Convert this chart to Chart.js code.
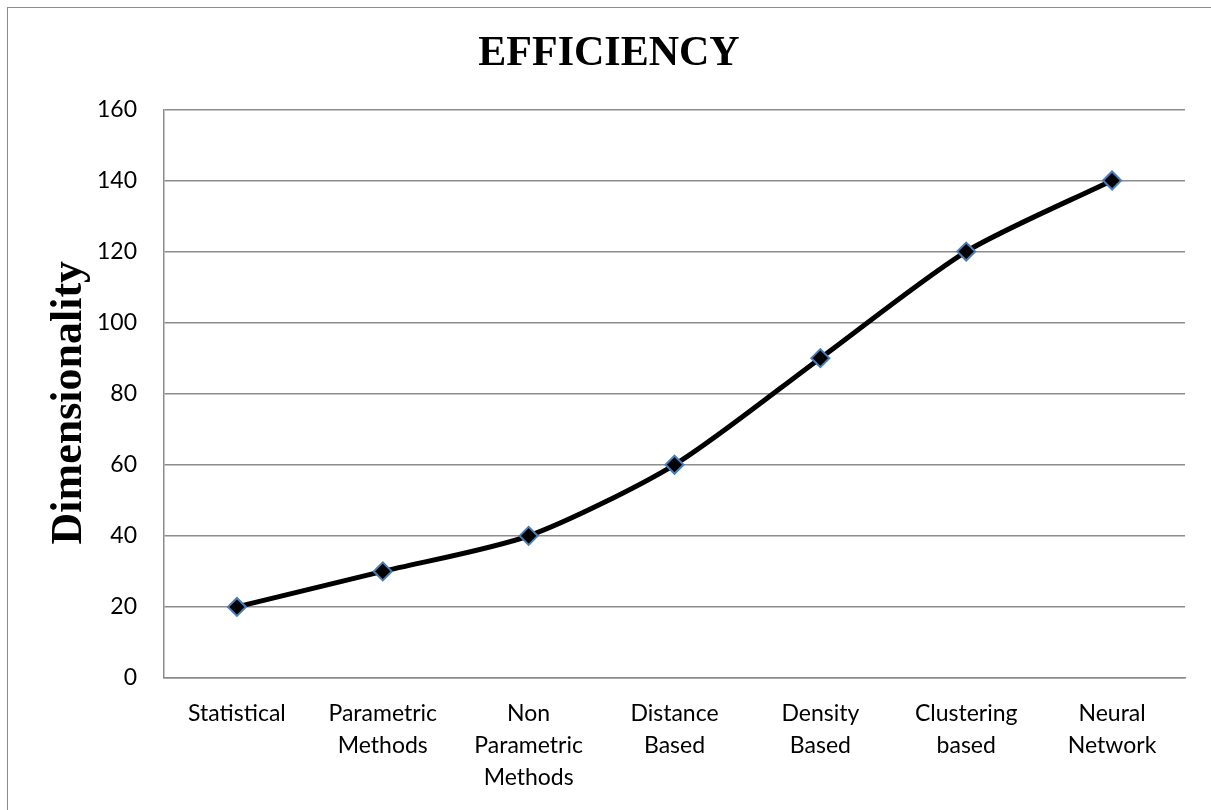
<!DOCTYPE html>
<html>
<head>
<meta charset="utf-8">
<script src="https://cdn.jsdelivr.net/npm/chart.js@4"></script>
<style>
    html, body { margin: 0; padding: 0; background: #fff; overflow: hidden; }
    .frame {
        position: absolute; left: 7px; top: 7px; width: 1260px; height: 900px;
        border: 1.5px solid #8c8c8c; box-sizing: border-box;
    }
    .wrap { position: absolute; left: 0; top: 0; width: 1211px; height: 810px; }
</style>
</head>
<body>
<div class="frame"></div>
<div class="wrap"><canvas id="chart"></canvas></div>
<script>
const categories = [
    ['Statistical'],
    ['Parametric', 'Methods'],
    ['Non', 'Parametric', 'Methods'],
    ['Distance', 'Based'],
    ['Density', 'Based'],
    ['Clustering', 'based'],
    ['Neural', 'Network']
];
const dimensionality = [20, 30, 40, 60, 90, 120, 140];
const yTicks = [0, 20, 40, 60, 80, 100, 120, 140, 160];
const yTitle = 'Dimensionality';

const gridColor = '#8c8c8c';
const tickFont = { family: 'Lato', size: 23, lineHeight: 1.41 };

// Excel puts the axis title a little below the middle of the plot, so draw it by hand
const yTitlePlugin = {
    id: 'yTitle',
    afterDraw(chart) {
        const ctx = chart.ctx;
        const area = chart.chartArea;
        ctx.save();
        ctx.translate(70, (area.top + area.bottom) / 2 + 9);
        ctx.rotate(-Math.PI / 2);
        ctx.font = 'bold 44px "Liberation Serif"';
        ctx.fillStyle = '#000';
        ctx.textAlign = 'center';
        ctx.textBaseline = 'middle';
        ctx.fillText(yTitle, 0, 0);
        ctx.restore();
    }
};

new Chart(document.getElementById('chart'), {
    type: 'line',
    data: {
        labels: categories,
        datasets: [{
            label: yTitle,
            data: dimensionality,
            borderColor: '#000',
            borderWidth: 5,
            tension: 0.25,
            pointStyle: 'rectRot',
            pointRadius: 9,
            pointHoverRadius: 9,
            pointBackgroundColor: '#000',
            pointBorderColor: '#4a7ebb',
            pointBorderWidth: 2
        }]
    },
    options: {
        responsive: true,
        maintainAspectRatio: false,
        animation: false,
        layout: {
            padding: { left: 33, right: 26, top: 8, bottom: 0 }
        },
        plugins: {
            legend: { display: false },
            tooltip: { enabled: false },
            title: {
                display: true,
                text: 'EFFICIENCY',
                color: '#000',
                font: { family: 'Liberation Serif', size: 42, weight: 'bold', lineHeight: 1.2 },
                padding: { top: 21, bottom: 30 }
            }
        },
        scales: {
            x: {
                offset: true,
                grid: { display: false, drawTicks: false },
                border: { color: gridColor, width: 1.5 },
                ticks: {
                    color: '#000',
                    font: tickFont,
                    padding: 19,
                    maxRotation: 0,
                    autoSkip: false
                },
                afterFit(scale) { scale.height = 132; }
            },
            y: {
                min: 0,
                max: 160,
                afterBuildTicks(scale) { scale.ticks = yTicks.map(v => ({ value: v })); },
                grid: { color: gridColor, lineWidth: 1.5, drawTicks: false },
                border: { color: gridColor, width: 1.5 },
                ticks: {
                    color: '#000',
                    font: tickFont,
                    padding: 27
                },
                afterFit(scale) { scale.width = 131; }
            }
        }
    },
    plugins: [yTitlePlugin]
});
</script>
</body>
</html>
